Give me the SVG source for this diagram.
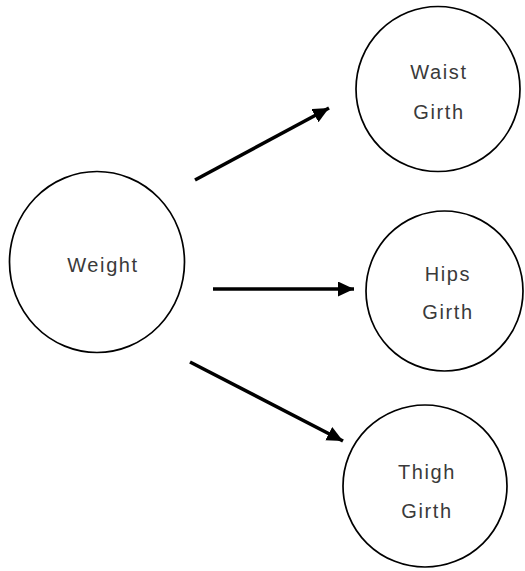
<svg xmlns="http://www.w3.org/2000/svg" width="525" height="571" viewBox="0 0 525 571">
<defs>
<marker id="ah" markerUnits="userSpaceOnUse" markerWidth="18" markerHeight="18" refX="16" refY="7.5" orient="auto">
<polygon points="0,0 16,7.5 0,15" fill="#000"/>
</marker>
<style>
.node ellipse{fill:#fff;stroke:#000;stroke-width:1.7}
.node text{font-family:"Liberation Sans",Arial,sans-serif;font-size:20px;fill:#3a3a3a;text-anchor:middle;letter-spacing:1.6px}
.edge{stroke:#000;stroke-width:3.5;fill:none;marker-end:url(#ah)}
</style>
</defs>
<rect width="525" height="571" fill="#fff"/>
<g id="weight" class="node">
<ellipse cx="97" cy="262" rx="87.5" ry="90.5"/>
<text x="103" y="272">Weight</text>
</g>
<g id="waist" class="node">
<ellipse cx="438" cy="89" rx="82" ry="82.5"/>
<text x="439" y="79">Waist</text>
<text x="439" y="119">Girth</text>
</g>
<g id="hips" class="node">
<ellipse cx="444.5" cy="291" rx="78.5" ry="80"/>
<text x="448" y="281">Hips</text>
<text x="448" y="319">Girth</text>
</g>
<g id="thigh" class="node">
<ellipse cx="425" cy="486" rx="82" ry="81"/>
<text x="427" y="479">Thigh</text>
<text x="427" y="518">Girth</text>
</g>
<g id="connectors">
<line class="edge" x1="195" y1="180" x2="329" y2="108"/>
<line class="edge" x1="213" y1="289" x2="354" y2="289"/>
<line class="edge" x1="190" y1="362" x2="343" y2="441"/>
</g>
</svg>
